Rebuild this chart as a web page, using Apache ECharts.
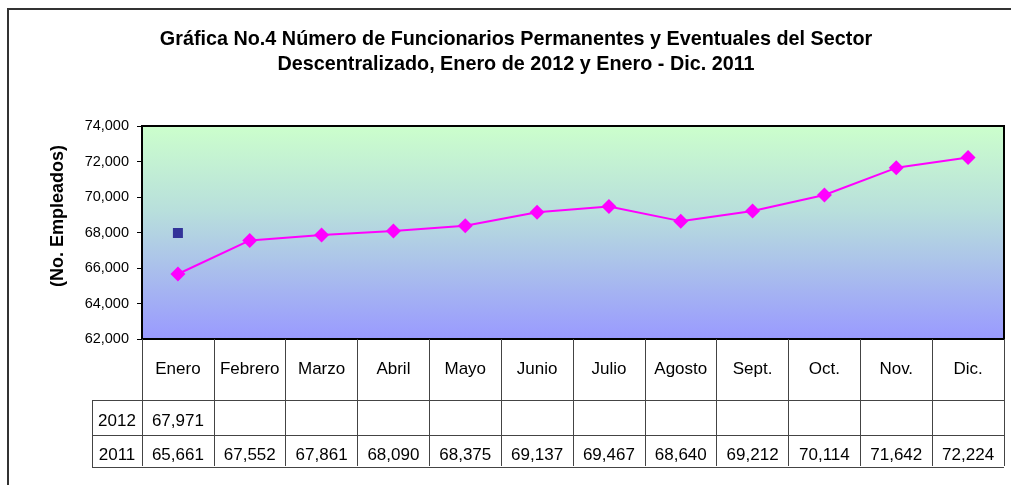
<!DOCTYPE html>
<html>
<head>
<meta charset="utf-8">
<script src="https://cdn.jsdelivr.net/npm/echarts@6/dist/echarts.min.js"></script>
<style>
html,body{margin:0;padding:0;background:#fff;}
#chart{width:1011px;height:485px;}
</style>
</head>
<body>
<div id="chart"></div>
<script>
const titleLines = ['Gráfica No.4 Número de Funcionarios Permanentes y Eventuales del Sector', 'Descentralizado, Enero de 2012 y Enero - Dic. 2011'];
const categories = ['Enero','Febrero','Marzo','Abril','Mayo','Junio','Julio','Agosto','Sept.','Oct.','Nov.','Dic.'];
const seriesNames = ['2012','2011'];
const values2012 = [67971, null, null, null, null, null, null, null, null, null, null, null];
const values2011 = [65661, 67552, 67861, 68090, 68375, 69137, 69467, 68640, 69212, 70114, 71642, 72224];
const yMin = 62000, yMax = 74000, yInterval = 2000;
const yAxisName = '(No. Empleados)';

const fmt = v => (v == null ? ' ' : v.toLocaleString('en-US'));
const FONT = 'Arial, "Liberation Sans", sans-serif';

const chart = echarts.init(document.getElementById('chart'), null, {renderer: 'canvas'});
chart.setOption({
  animation: false,
  textStyle: {fontFamily: FONT},
  title: {
    text: titleLines.join('\n'),
    left: 516,
    top: 22,
    textAlign: 'center',
    padding: [5, 0, 5, 0],
    textStyle: {fontSize: 19.8, fontWeight: 'bold', color: '#000', lineHeight: 25, fontFamily: FONT}
  },
  grid: {
    left: 142, top: 126, width: 862, height: 213,
    show: true,
    borderColor: '#000', borderWidth: 2,
    backgroundColor: new echarts.graphic.LinearGradient(0, 0, 0, 1, [
      {offset: 0, color: '#CCFFCC'},
      {offset: 0.4, color: '#B8DFDC'},
      {offset: 1, color: '#9999FF'}
    ])
  },
  xAxis: {
    type: 'category',
    data: categories,
    boundaryGap: true,
    axisLine: {show: true, lineStyle: {color: '#000', width: 2}},
    axisTick: {show: true, interval: 0, length: 127, lineStyle: {color: '#444', width: 1}},
    axisLabel: {
      interval: 0, margin: 0, color: '#000',
      formatter: (value, index) => `{m|${value}}\n{a|${fmt(values2012[index])}}\n{b|${fmt(values2011[index])}}`,
      rich: {
        m: {fontSize: 17, lineHeight: 61, color: '#000', fontFamily: FONT},
        a: {fontSize: 17, lineHeight: 43, color: '#000', fontFamily: FONT},
        b: {fontSize: 17, lineHeight: 24, color: '#000', fontFamily: FONT}
      }
    },
    splitLine: {show: false}
  },
  yAxis: {
    type: 'value',
    min: yMin, max: yMax, interval: yInterval,
    axisLine: {show: true, lineStyle: {color: '#000', width: 2}},
    axisTick: {show: true, length: 5, lineStyle: {color: '#000'}},
    axisLabel: {
      color: '#000', fontSize: 14.5, margin: 13,
      formatter: v => v.toLocaleString('en-US')
    },
    splitLine: {show: false}
  },
  graphic: [
    {type: 'rect', shape: {x: 8, y: 9, width: 1100, height: 600}, style: {fill: 'none', stroke: '#333', lineWidth: 2}, silent: true, z: -1},
    {type: 'line', shape: {x1: 92, y1: 400.5, x2: 1004, y2: 400.5}, style: {stroke: '#444', lineWidth: 1}},
    {type: 'line', shape: {x1: 92, y1: 435.5, x2: 1004, y2: 435.5}, style: {stroke: '#444', lineWidth: 1}},
    {type: 'line', shape: {x1: 92, y1: 467.5, x2: 1004, y2: 467.5}, style: {stroke: '#444', lineWidth: 1}},
    {type: 'line', shape: {x1: 92.5, y1: 400, x2: 92.5, y2: 468}, style: {stroke: '#444', lineWidth: 1}},
    {type: 'text', x: 117, y: 421, style: {text: seriesNames[0], fill: '#000', font: '17px ' + FONT, textAlign: 'center', textVerticalAlign: 'middle'}},
    {type: 'text', x: 117, y: 455, style: {text: seriesNames[1], fill: '#000', font: '17px ' + FONT, textAlign: 'center', textVerticalAlign: 'middle'}},
    {type: 'text', x: 58, y: 216, rotation: Math.PI / 2, style: {text: yAxisName, fill: '#000', font: 'bold 18px ' + FONT, textAlign: 'center', textVerticalAlign: 'middle'}}
  ],
  series: [
    {
      name: seriesNames[0], type: 'line', data: values2012,
      symbol: 'rect', symbolSize: 10,
      itemStyle: {color: '#333399'},
      lineStyle: {width: 0},
      connectNulls: false
    },
    {
      name: seriesNames[1], type: 'line', data: values2011,
      symbol: 'diamond', symbolSize: 15,
      itemStyle: {color: '#FF00FF'},
      lineStyle: {color: '#FF00FF', width: 2}
    }
  ]
});
</script>
</body>
</html>
